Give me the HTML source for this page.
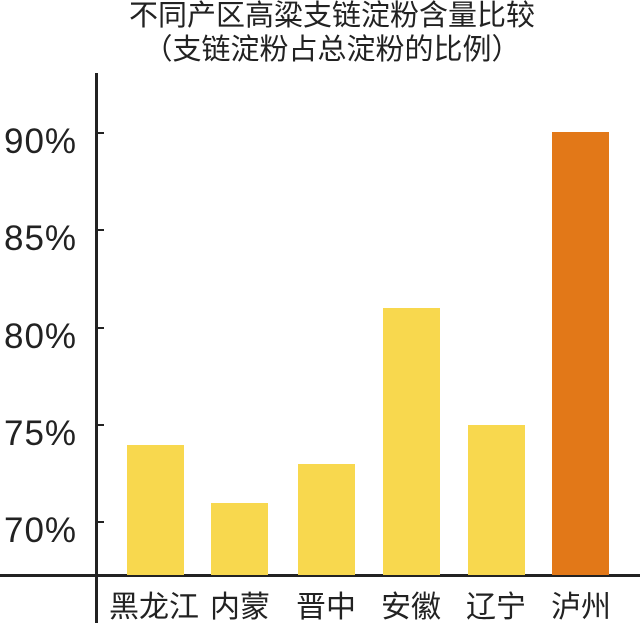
<!DOCTYPE html>
<html><head><meta charset="utf-8"><style>
html,body{margin:0;padding:0;background:#fff;}
body{width:640px;height:623px;position:relative;overflow:hidden;font-family:"Liberation Sans","Noto Sans CJK SC",sans-serif;color:#222;}
.t{position:absolute;left:0;width:664px;text-align:center;font-size:29px;line-height:32px;}
.y{position:absolute;left:4px;font-size:35px;line-height:36px;letter-spacing:1px;}
.bar{position:absolute;bottom:48px;width:57px;background:#f8d84e;}
.xl{position:absolute;top:590px;font-size:30px;line-height:36px;text-align:center;width:110px;white-space:nowrap;}
.tick{position:absolute;left:97px;width:7px;height:2px;background:#222;}
</style></head><body>
<div class="t" style="top:0px">不同产区高粱支链淀粉含量比较</div>
<div class="t" style="top:34px">（支链淀粉占总淀粉的比例）</div>
<div style="position:absolute;left:95px;top:73px;width:3px;height:550px;background:#222"></div>
<div style="position:absolute;left:0;top:574px;width:640px;height:3px;background:#222"></div>
<div class="tick" style="top:132px"></div><div class="tick" style="top:229px"></div><div class="tick" style="top:327px"></div><div class="tick" style="top:424px"></div><div class="tick" style="top:521px"></div>
<div class="y" style="top:124px">90%</div>
<div class="y" style="top:221px">85%</div>
<div class="y" style="top:319px">80%</div>
<div class="y" style="top:416px">75%</div>
<div class="y" style="top:513px">70%</div>
<div class="bar" style="left:127px;top:445px"></div>
<div class="bar" style="left:211px;top:503px"></div>
<div class="bar" style="left:298px;top:464px"></div>
<div class="bar" style="left:383px;top:308px"></div>
<div class="bar" style="left:468px;top:425px"></div>
<div class="bar" style="left:552px;top:132px;background:#e27818"></div>
<div class="xl" style="left:99px">黑龙江</div>
<div class="xl" style="left:185px">内蒙</div>
<div class="xl" style="left:271px">晋中</div>
<div class="xl" style="left:356px">安徽</div>
<div class="xl" style="left:441px">辽宁</div>
<div class="xl" style="left:526px">泸州</div>
</body></html>
